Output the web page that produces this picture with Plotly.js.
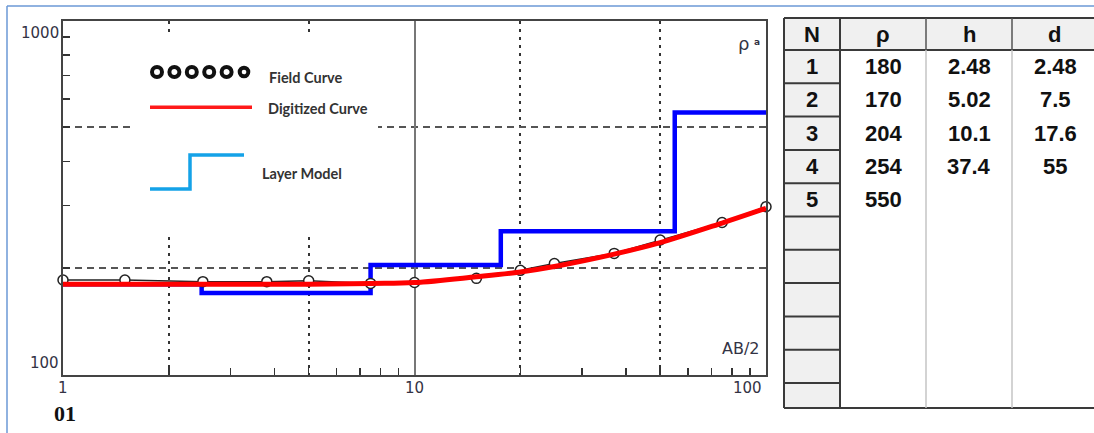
<!DOCTYPE html>
<html><head><meta charset="utf-8">
<script src="https://cdn.plot.ly/plotly-3.0.1.min.js"></script>
<style>html,body{margin:0;padding:0;background:#fff;}#chart{width:1094px;height:433px;}</style>
</head><body><div id="chart"></div>
<script>
// ---------- data ----------
const fieldAB  = [1, 1.5, 2.5, 3.8, 5, 7.5, 10, 15, 20, 25, 37, 50, 75, 100];
const fieldRho = [185, 185, 183, 183, 184, 181, 182, 187, 197, 206, 220, 240, 269, 298];
const digitAB  = [1, 2.5, 5, 7.5, 10, 15, 20, 25, 37, 50, 75, 100];
const digitRho = [180, 180, 180, 181, 182, 189, 195, 202, 219, 236, 268, 295];
const layerN   = ['1', '2', '3', '4', '5'];
const layerRho = [180, 170, 204, 254, 550];
const layerH   = [2.48, 5.02, 10.1, 37.4];
const layerD   = [2.48, 7.5, 17.6, 55];
const tableHeader = ['N', 'ρ', 'h', 'd'];
const abRange  = [1, 100];
const rhoRange = [100, 1000];
const xTickVals = [1, 10, 100];
const xTickText = ['1', '10', '100'];
const yTickVals = [1000, 100];
const yTickText = ['1000', '100'];
const xGridDotted = [2, 5, 20, 50];
const xMinorTicks = [3, 4, 6, 7, 8, 9, 30, 40, 60, 70, 80, 90];
const yGridDashed = [200, 500];
const yMinorTicks = [300, 400, 600, 700, 800, 900];
const legendLabels = ['Field Curve', 'Digitized Curve', 'Layer Model'];

// ---------- geometry helpers (pixel -> paper) ----------
const W = 1094, H = 433;
const fx = p => p / W;
const fy = p => 1 - p / H;
const plotL = 63, plotR = 766, plotT = 20.6, plotB = 374.6;

// layer model step line built from table values
const modelX = [abRange[0]].concat(layerD).concat([abRange[1]]);
const modelY = layerRho.concat([layerRho[layerRho.length - 1]]);

const traces = [
  {x: modelX, y: modelY, mode: 'lines', line: {shape: 'hv', color: '#0000ff', width: 4.5}, hoverinfo: 'skip'},
  {x: fieldAB, y: fieldRho, mode: 'lines+markers', cliponaxis: false,
   line: {color: '#222', width: 1.5},
   marker: {symbol: 'circle', size: 10, color: '#ffffff', line: {color: '#222', width: 1.5}}},
  {x: digitAB, y: digitRho, mode: 'lines', line: {shape: 'spline', smoothing: 1, color: '#ff0000', width: 5}},
  // empty traces that only make the minor-tick overlay axes exist
  {x: [], y: [], xaxis: 'x2', yaxis: 'y', mode: 'markers', hoverinfo: 'skip'},
  {x: [], y: [], xaxis: 'x', yaxis: 'y2', mode: 'markers', hoverinfo: 'skip'}
];

const shapes = [];
const annotations = [];
const dark = '#3a3a3a';
function hline(x0, x1, y, color, w) {
  shapes.push({type: 'line', xref: 'paper', yref: 'paper', x0: fx(x0), x1: fx(x1), y0: fy(y), y1: fy(y),
    line: {color: color, width: w}, layer: 'above'});
}
function vline(x, y0, y1, color, w) {
  shapes.push({type: 'line', xref: 'paper', yref: 'paper', x0: fx(x), x1: fx(x), y0: fy(y0), y1: fy(y1),
    line: {color: color, width: w}, layer: 'above'});
}
function rect(x0, x1, y0, y1, fill, layer) {
  shapes.push({type: 'rect', xref: 'paper', yref: 'paper', x0: fx(x0), x1: fx(x1), y0: fy(y1), y1: fy(y0),
    fillcolor: fill, line: {width: 0}, layer: layer || 'below'});
}
function text(t, x, y, opts) {
  annotations.push(Object.assign({text: t, xref: 'paper', yref: 'paper', x: fx(x), y: fy(y),
    showarrow: false, xanchor: 'center', yanchor: 'middle',
    font: {family: 'DejaVu Sans', size: 15, color: '#333344'}}, opts || {}));
}

// outer light blue frame
vline(7, 6, 433, '#6b98d6', 1.5);
hline(7, 1094, 6, '#6b98d6', 1.5);

// legend area (opaque box covering gridlines)
rect(130, 378, 36, 232, '#ffffff', 'above');
for (let i = 0; i < 6; i++) {
  const cx = 157 + 17.4 * i, cy = 72, r = i < 5 ? 5 : 4.3;
  shapes.push({type: 'circle', xref: 'paper', yref: 'paper', x0: fx(cx - r), x1: fx(cx + r), y0: fy(cy + r), y1: fy(cy - r),
    fillcolor: '#ffffff', line: {color: '#111', width: 4}, layer: 'above'});
}
hline(150, 252, 107.3, '#ff1a1a', 3.5);
shapes.push({type: 'path', xref: 'paper', yref: 'paper',
  path: `M ${fx(150)},${fy(189)} L ${fx(190)},${fy(189)} L ${fx(190)},${fy(155)} L ${fx(244)},${fy(155)}`,
  line: {color: '#14a2e8', width: 3.5}, layer: 'above'});
const legFont = {family: 'Lato', size: 14.5, color: '#333'};
text('<b>' + legendLabels[0] + '</b>', 267, 77, {xanchor: 'left', font: legFont});
text('<b>' + legendLabels[1] + '</b>', 266, 108, {xanchor: 'left', font: legFont});
text('<b>' + legendLabels[2] + '</b>', 260, 173, {xanchor: 'left', font: legFont});

// axis labels
xTickVals.forEach((v, i) => {
  annotations.push({text: xTickText[i], xref: 'x', yref: 'paper', x: Math.log10(v), y: fy(388),
    xshift: i === xTickVals.length - 1 ? -19 : 0, showarrow: false, xanchor: 'center', yanchor: 'middle',
    font: {family: 'DejaVu Sans', size: 15, color: '#333344'}});
});
yTickVals.forEach((v, i) => {
  annotations.push({text: yTickText[i], xref: 'paper', yref: 'y', x: fx(61), y: Math.log10(v),
    yshift: i === 0 ? -12.5 : 11.5, showarrow: false, xanchor: 'right', yanchor: 'middle',
    font: {family: 'DejaVu Sans', size: 15, color: '#333344'}});
});
text('ρ', 743, 43, {font: {family: 'DejaVu Sans', size: 18, color: '#333344'}});
text('<b>a</b>', 757, 42, {font: {family: 'DejaVu Sans', size: 9, color: '#333344'}});
text('AB/2', 762, 348, {xanchor: 'right', font: {family: 'DejaVu Sans', size: 16, color: '#333344'}});
text('<b>01</b>', 52, 413, {xanchor: 'left', font: {family: 'Liberation Serif', size: 22, color: '#111'}});

// ---------- table ----------
const colX = [784, 840, 926, 1012, 1100];
const headTop = 18, headBot = 50, tabBot = 408, rowH = 33.3, nRows = 10;
rect(colX[0], colX[4], headTop, headBot, '#f0f0f0');
rect(colX[0], colX[1], headBot, tabBot, '#f0f0f0');
hline(colX[0], colX[4], headTop, dark, 2);
hline(colX[0], colX[4], headBot, dark, 2);
hline(colX[0], colX[4], tabBot, dark, 2);
vline(colX[0], headTop, tabBot, dark, 2);
vline(colX[1], headTop, tabBot, dark, 2);
vline(colX[2], headTop, headBot, '#555', 1.5);
vline(colX[3], headTop, headBot, '#555', 1.5);
vline(colX[2], headBot, tabBot, '#c4c4c4', 1.5);
vline(colX[3], headBot, tabBot, '#c4c4c4', 1.5);
for (let k = 1; k <= nRows; k++) hline(colX[0], colX[1], headBot + k * rowH, dark, 2);

const tabFont = {family: 'Liberation Sans', size: 22, color: '#111'};
tableHeader.forEach((t, c) => text('<b>' + t + '</b>', (colX[c] + colX[c + 1]) / 2 - (c === 3 ? 2 : 0), 35, {font: tabFont}));
const cols = [layerN, layerRho.map(String), layerH.map(String), layerD.map(String)];
cols.forEach((col, c) => col.forEach((v, r) => {
  const cx = c === 3 ? 1055 : (colX[c] + colX[c + 1]) / 2;
  text('<b>' + v + '</b>', cx, headBot + (r + 0.5) * rowH, {font: tabFont});
}));

const axisCommon = {type: 'log', showline: true, mirror: true, linecolor: '#444', linewidth: 2,
  zeroline: false, showticklabels: false, fixedrange: true};
const layout = {
  width: W, height: H, margin: {l: 0, r: 0, t: 0, b: 0},
  paper_bgcolor: '#ffffff', plot_bgcolor: '#ffffff', showlegend: false,
  xaxis: Object.assign({}, axisCommon, {
    domain: [fx(plotL), fx(plotR)], range: [Math.log10(abRange[0]), Math.log10(abRange[1])],
    tickmode: 'array', tickvals: xTickVals, ticks: '',
    showgrid: true, gridcolor: '#777', gridwidth: 2,
    minor: {tickmode: 'array', tickvals: xGridDotted, ticks: 'inside', ticklen: 7, tickcolor: '#333', tickwidth: 1.5,
      showgrid: true, gridcolor: '#333', gridwidth: 2, griddash: '3px,5px'}
  }),
  yaxis: Object.assign({}, axisCommon, {
    domain: [fy(plotB), fy(plotT)], range: [Math.log10(rhoRange[0]), Math.log10(rhoRange[1])],
    tickmode: 'array', tickvals: yTickVals, ticks: '', showgrid: false,
    minor: {tickmode: 'array', tickvals: yGridDashed, ticks: 'inside', ticklen: 7, tickcolor: '#333', tickwidth: 1.5,
      showgrid: true, gridcolor: '#555', gridwidth: 2, griddash: '7px,5px'}
  }),
  xaxis2: {type: 'log', overlaying: 'x', anchor: 'y', side: 'bottom', range: [0, 2], tickmode: 'array', tickvals: xMinorTicks,
    ticks: 'inside', ticklen: 7, tickcolor: '#333', tickwidth: 1.5, showticklabels: false, showgrid: false,
    zeroline: false, showline: false, fixedrange: true},
  yaxis2: {type: 'log', overlaying: 'y', anchor: 'x', side: 'left', range: [2, 3], tickmode: 'array', tickvals: yMinorTicks,
    ticks: 'inside', ticklen: 7, tickcolor: '#333', tickwidth: 1.5, showticklabels: false, showgrid: false,
    zeroline: false, showline: false, fixedrange: true},
  shapes: shapes, annotations: annotations
};
Plotly.newPlot('chart', traces, layout, {staticPlot: true, displayModeBar: false});
</script></body></html>
